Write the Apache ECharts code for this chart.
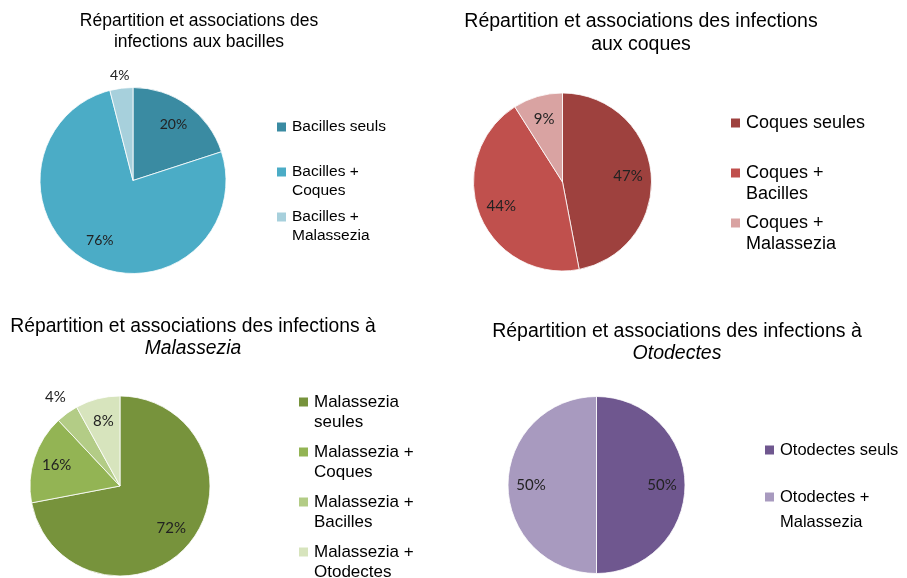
<!DOCTYPE html>
<html>
<head>
<meta charset="utf-8">
<script src="https://cdn.jsdelivr.net/npm/echarts@6/dist/echarts.min.js"></script>
<style>
  html, body { margin: 0; padding: 0; background: #fff; }
  #main { width: 907px; height: 578px; }
</style>
</head>
<body>
<div id="main"></div>
<script>
// données des quatre camemberts
var bacillesNames = ['Bacilles seuls', 'Bacilles + Coques', 'Bacilles + Malassezia'];
var bacillesValues = [20, 76, 4];
var coquesNames = ['Coques seules', 'Coques + Bacilles', 'Coques + Malassezia'];
var coquesValues = [47, 44, 9];
var malasseziaNames = ['Malassezia seules', 'Malassezia + Coques', 'Malassezia + Bacilles', 'Malassezia + Otodectes'];
var malasseziaValues = [72, 16, 4, 8];
var otodectesNames = ['Otodectes seuls', 'Otodectes + Malassezia'];
var otodectesValues = [50, 50];

var titles = [
  'Répartition et associations des\ninfections aux bacilles',
  'Répartition et associations des infections\naux coques',
  'Répartition et associations des infections à\n{i|Malassezia}',
  'Répartition et associations des infections à\n{i|Otodectes}'
];

(function () {
  var myChart = echarts.init(document.getElementById('main'))

  // une fiche par camembert : place, taille, couleurs
  var charts = [
    { names: bacillesNames, values: bacillesValues,
      colors: ['#3a8ba2', '#4bacc6', '#a7d0dc'],
      center: [133, 180.5], r: 93, outside: [2], outRatio: 1.14,
      title: { x: 199, top: 11, size: 17.5, lh: 21 },
      legend: { left: 275, top: 127, size: 15.5, lh: 19, step: 45, wrapAll: false },
      labelSize: 14 },
    { names: coquesNames, values: coquesValues,
      colors: ['#9e413e', '#c0504d', '#d9a3a2'],
      center: [562.5, 182], r: 89, outside: [], outRatio: 1,
      title: { x: 641, top: 10, size: 19.5, lh: 23 },
      legend: { left: 729, top: 123, size: 18, lh: 21, step: 50, wrapAll: false },
      labelSize: 15 },
    { names: malasseziaNames, values: malasseziaValues,
      colors: ['#77933c', '#93b454', '#b3cc86', '#d7e4bd'],
      center: [120, 486], r: 90, outside: [2], outRatio: 1.22,
      title: { x: 193, top: 316, size: 19.3, lh: 22 },
      legend: { left: 297, top: 402, size: 17, lh: 20, step: 50, wrapAll: true },
      labelSize: 15 },
    { names: otodectesNames, values: otodectesValues,
      colors: ['#6f578f', '#a89abf'],
      center: [596.5, 485], r: 88.5, outside: [], outRatio: 1,
      title: { x: 677, top: 321, size: 19.5, lh: 22 },
      legend: { left: 763, top: 450, size: 16.5, lh: 25, step: 47, wrapAll: false },
      labelSize: 15 }
  ]

  // coupe le nom sur deux lignes, puis l'entoure de lignes vides
  // pour que l'icône tombe sur la première ligne
  function breakName(name, wrapAll) {
    var s = name
    if (name.indexOf(' + ') >= 0) s = name.replace(' + ', ' +\n')
    else if (wrapAll) s = name.replace(' ', '\n')
    return s.indexOf('\n') >= 0 ? '\n' + s : '\n' + s + '\n'
  }

  var option = { animation: false, title: [], legend: [], series: [] }

  charts.forEach(function (c, k) {
    option.title.push({
      text: titles[k],
      left: c.title.x,
      top: c.title.top,
      textAlign: 'center',
      padding: 0,
      textStyle: {
        fontFamily: 'Liberation Sans, Arial, sans-serif',
        fontWeight: 'normal',
        fontSize: c.title.size,
        lineHeight: c.title.lh,
        color: '#000',
        rich: { i: { fontStyle: 'italic', fontSize: c.title.size, lineHeight: c.title.lh,
                     fontFamily: 'Liberation Sans, Arial, sans-serif', color: '#000' } }
      }
    })

    var lh = c.legend.lh
    option.legend.push({
      orient: 'vertical',
      left: c.legend.left,
      top: c.legend.top - 1.5 * lh,
      height: 400,
      padding: 0,
      icon: 'rect',
      itemWidth: 11,
      itemHeight: 11,
      itemGap: c.legend.step - 3 * lh,
      selectedMode: false,
      data: c.names,
      formatter: function (n) { return breakName(n, c.legend.wrapAll) },
      textStyle: {
        fontFamily: 'Liberation Sans, Arial, sans-serif',
        fontSize: c.legend.size,
        lineHeight: lh,
        color: '#000'
      }
    })

    var labelStyle = {
      formatter: '{c}%',
      fontFamily: 'Lato, Open Sans, sans-serif',
      fontSize: c.labelSize,
      color: '#222'
    }

    // camembert visible
    option.series.push({
      type: 'pie',
      center: c.center,
      radius: [0, c.r],
      startAngle: 90,
      clockwise: true,
      data: c.values.map(function (v, i) {
        return { name: c.names[i], value: v, itemStyle: { color: c.colors[i] } }
      }),
      itemStyle: { borderColor: '#ffffff', borderWidth: 0.8 },
      label: { show: false },
      labelLine: { show: false },
      emphasis: { disabled: true }
    })

    // calques transparents : étiquettes dedans (~0.74 r) et dehors
    var layers = [
      { ratio: 0.74, inside: true },
      { ratio: c.outRatio, inside: false }
    ]
    layers.forEach(function (ly) {
      if (!ly.inside && c.outside.length === 0) return
      option.series.push({
        type: 'pie',
        silent: true,
        center: c.center,
        radius: [0, 2 * (ly.ratio * c.r - 3)],
        startAngle: 90,
        clockwise: true,
        avoidLabelOverlap: false,
        data: c.values.map(function (v, i) {
          var isOut = c.outside.indexOf(i) >= 0
          return { name: c.names[i], value: v,
                   label: { show: ly.inside ? !isOut : isOut } }
        }),
        itemStyle: { color: 'rgba(0,0,0,0)' },
        label: Object.assign({ position: 'inside' }, labelStyle),
        labelLine: { show: false },
        emphasis: { disabled: true }
      })
    })
  })

  myChart.setOption(option)
  window.addEventListener('resize', function () { myChart.resize() })
})();
</script>
</body>
</html>
